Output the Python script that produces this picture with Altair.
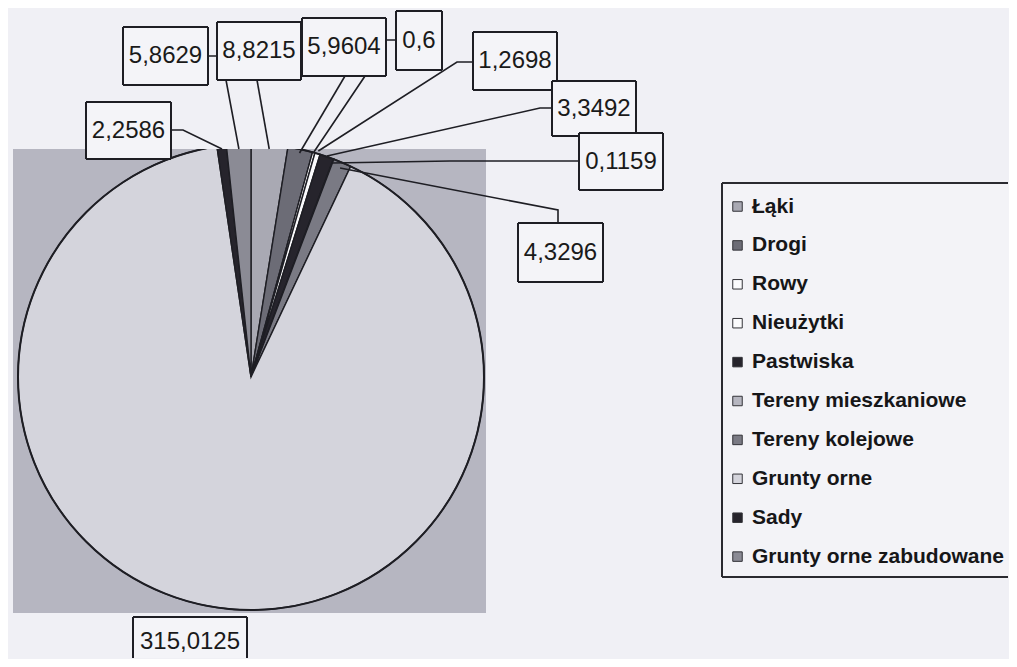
import math
import altair as alt
import pandas as pd

# ---------------- data ----------------
categories = ["Łąki", "Drogi", "Rowy", "Nieużytki", "Pastwiska",
              "Tereny mieszkaniowe", "Tereny kolejowe", "Grunty orne",
              "Sady", "Grunty orne zabudowane"]
values = [8.8215, 5.9604, 0.6, 1.2698, 3.3492, 0.1159, 4.3296,
          315.0125, 2.2586, 5.8629]
value_labels = ["8,8215", "5,9604", "0,6", "1,2698", "3,3492", "0,1159",
                "4,3296", "315,0125", "2,2586", "5,8629"]

# ---------------- styles ----------------
colors = ["#a9a9b3", "#6c6c76", "#fbfbfd", "#fbfbfd", "#26242c",
          "#b6b6c0", "#7a7a84", "#d4d4dc", "#26242c", "#8b8b95"]
PAGE_BG = "#f0f0f5"
PLOT_BG = "#b6b6c1"
INK = "#1e1e24"

# ---------------- layout (page pixel coordinates) ----------------
W, H = 1001, 651
M = 8
X_MAX, Y_MAX = M + W - 1, M + H - 1   # last visible page pixel
CX, CY, R = 251, 377, 233          # pie centre / radius
plot_rect = dict(x=13, x2=486, y=149, y2=613)
legend_rect = (722, 1040, 183, 577)
# label boxes: x1, x2, y1, y2
boxes = [(217, 301, 22, 80), (302, 386, 18, 76), (396, 442, 11, 70),
         (473, 557, 32, 90), (552, 636, 81, 136), (579, 663, 133, 190),
         (518, 603, 223, 282), (133, 247, 617, 667), (86, 171, 102, 159),
         (123, 208, 27, 85)]
# leader elbows (from the box towards the pie) and the y where they meet the pie
elbows = [[(257, 80)], [(345, 76)], [(396, 40), (380, 40), (365, 76)],
          [(473, 62), (457, 62)], [(552, 108), (540, 108)],
          [(579, 161), (450, 161)], [(558, 223), (558, 210)], None,
          [(171, 130), (183, 130)], [(208, 56), (222, 56), (226, 80)]]
end_y = [149, 153, 152, 151, 156, 163, 168, None, 149, 149]

total = sum(values)
starts = []
acc = 0.0
for v in values:
    starts.append(acc)
    acc += v

pie_df = pd.DataFrame({"category": categories, "value": values,
                       "ord": list(range(len(categories)))})


def clip_box(x1, x2, y1, y2):
    return min(x1, X_MAX), min(x2, X_MAX), min(y1, Y_MAX), min(y2, Y_MAX)


def edges(key, x1, x2, y1, y2):
    segs = []
    cx1, cx2, cy1, cy2 = clip_box(x1, x2, y1, y2)
    segs.append(dict(k=key, x=cx1, x2=cx2, y=cy1, y2=cy1))          # top
    segs.append(dict(k=key, x=cx1, x2=cx1, y=cy1, y2=cy2))          # left
    if x2 <= X_MAX:
        segs.append(dict(k=key, x=cx2, x2=cx2, y=cy1, y2=cy2))      # right
    if y2 <= Y_MAX:
        segs.append(dict(k=key, x=cx1, x2=cx2, y=cy2, y2=cy2))      # bottom
    return segs


box_rows, line_rows, edge_rows = [], [], []
for i, lab in enumerate(value_labels):
    x1, x2, y1, y2 = boxes[i]
    cx1, cx2, cy1, cy2 = clip_box(x1, x2, y1, y2)
    box_rows.append(dict(lbl=lab, ord=i, x=cx1, x2=cx2, y=cy1, y2=cy2,
                         tx=(x1 + x2) / 2, ty=(y1 + y2) / 2))
    edge_rows += [dict(e, ord=i) for e in edges(lab, x1, x2, y1, y2)]
    if elbows[i] is None:
        continue
    mid = (starts[i] + values[i] / 2) / total * 2 * math.pi
    ey = end_y[i]
    ex = CX + (CY - ey) * math.tan(mid)
    pts = list(elbows[i]) + [(ex, ey)]
    for s, (px, py) in enumerate(pts):
        line_rows.append(dict(lbl=lab, seq=s, x=px, y=py))

box_df = pd.DataFrame(box_rows)
line_df = pd.DataFrame(line_rows)
rect_df = pd.DataFrame([plot_rect])
lx1, lx2, ly1, ly2 = clip_box(*legend_rect)
legend_df = pd.DataFrame([dict(x=lx1, x2=lx2 + 1, y=ly1, y2=ly2)])
legend_edges = pd.DataFrame(edges("legend", *legend_rect))
cover_df = pd.DataFrame([dict(x=plot_rect["x"], x2=plot_rect["x2"], y=130, y2=plot_rect["y"])])

xs = alt.Scale(domain=[M, M + W])
ys = alt.Scale(domain=[M, M + H], reverse=True)


def X(f):
    return alt.X(f, type="quantitative", scale=xs, axis=None)


def Y(f):
    return alt.Y(f, type="quantitative", scale=ys, axis=None)


plot_bg = alt.Chart(rect_df).mark_rect(fill=PLOT_BG).encode(
    x=X("x"), x2="x2", y=Y("y"), y2="y2")

legend_box = alt.Chart(legend_df).mark_rect(fill="#f3f3f7").encode(
    x=X("x"), x2="x2", y=Y("y"), y2="y2")
legend_border = alt.Chart(legend_edges).mark_rule(
    color="#2a2a30", strokeWidth=2).encode(
    x=X("x"), x2="x2", y=Y("y"), y2="y2")

pie = alt.Chart(pie_df).mark_arc(radius=R, stroke=INK, strokeWidth=1.4).encode(
    theta=alt.Theta("value:Q", stack=True),
    order=alt.Order("ord:Q"),
    color=alt.Color(
        "category:N", sort=categories,
        scale=alt.Scale(domain=categories, range=colors),
        legend=alt.Legend(
            orient="none", legendX=727 - M, legendY=196 - M, title=None,
            direction="vertical", symbolType="square", symbolSize=90,
            symbolStrokeColor="#333338", symbolStrokeWidth=1,
            labelFont="Liberation Sans", labelFontSize=21,
            labelFontWeight="bold", labelColor="#161618", labelLimit=0,
            labelOffset=4, rowPadding=16.9, padding=0)),
    x=alt.value(CX - M), y=alt.value(CY - M))

outline = alt.Chart(rect_df).mark_arc(
    radius=R, theta=0, theta2=2 * math.pi, fillOpacity=0,
    stroke=INK, strokeWidth=2).encode(x=alt.value(CX - M), y=alt.value(CY - M))

cover = alt.Chart(cover_df).mark_rect(fill=PAGE_BG).encode(
    x=X("x"), x2="x2", y=Y("y"), y2="y2")

leaders = alt.Chart(line_df).mark_line(color=INK, strokeWidth=1.6).encode(
    x=X("x"), y=Y("y"), detail="lbl:N", order="seq:Q")

# boxes drawn one after another so that later boxes overlap earlier ones
label_layers = []
for i in range(len(value_labels)):
    sub_box = box_df[box_df["ord"] == i]
    sub_edge = pd.DataFrame([e for e in edge_rows if e["ord"] == i])
    label_layers.append(alt.Chart(sub_box).mark_rect(fill="#f4f4f8").encode(
        x=X("x"), x2="x2", y=Y("y"), y2="y2"))
    label_layers.append(alt.Chart(sub_edge).mark_rule(
        color=INK, strokeWidth=2).encode(
        x=X("x"), x2="x2", y=Y("y"), y2="y2"))

label_text = alt.Chart(box_df).mark_text(
    font="Liberation Sans", fontSize=24, color="#1a1a1a",
    align="center", baseline="middle").encode(
    x=X("tx"), y=Y("ty"), text="lbl:N")

chart = alt.layer(plot_bg, legend_box, legend_border, pie, outline, cover,
                  leaders, *label_layers, label_text).properties(
    width=W, height=H, background=PAGE_BG, padding=0,
    autosize=alt.AutoSizeParams(type="none")
).configure_view(stroke=None)

chart.save("out.html", embed_options={"renderer": "svg", "actions": False})
